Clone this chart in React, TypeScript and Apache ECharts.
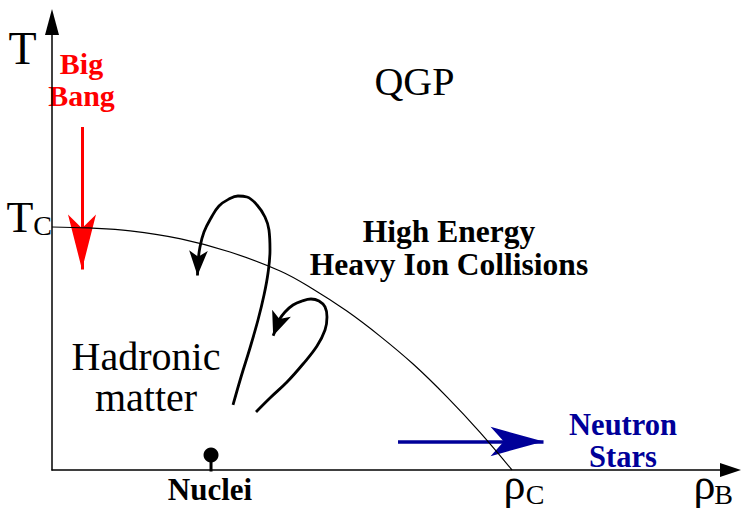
import React, { useEffect, useRef } from "react";
import * as echarts from "echarts";

// ---- data (x: rho_B / rho_C, y: T / T_C) ----
const phaseBoundary: number[][] = [
  [0, 1], [0.08, 0.996], [0.17, 0.984], [0.28, 0.951], [0.387, 0.897],
  [0.496, 0.819], [0.567, 0.745], [0.641, 0.654], [0.713, 0.551],
  [0.785, 0.436], [0.859, 0.3], [0.93, 0.156], [1.0, 0],
];

const collisionPath1: number[][] = [
  [0.3935, 0.2675], [0.4109, 0.3827], [0.4304, 0.5021], [0.4478, 0.6173],
  [0.4609, 0.7202], [0.4696, 0.8107], [0.4739, 0.9053], [0.4717, 0.9877],
  [0.463, 1.0412], [0.4457, 1.0905], [0.4239, 1.1235], [0.4043, 1.1276],
  [0.3848, 1.1152], [0.363, 1.0864], [0.3457, 1.037], [0.3304, 0.9794],
  [0.3217, 0.9177], [0.3174, 0.856],
];
const collisionHead1: number[][] = [[0.3174, 0.856], [0.3152, 0.749]];

const collisionPath2: number[][] = [
  [0.4435, 0.2387], [0.4739, 0.2963], [0.5109, 0.3621], [0.5457, 0.4362],
  [0.5761, 0.5103], [0.5935, 0.5761], [0.5978, 0.6296], [0.5935, 0.6708],
  [0.5804, 0.6955], [0.563, 0.7037], [0.5435, 0.6955], [0.5239, 0.679],
  [0.5065, 0.6502], [0.4935, 0.6173],
];
const collisionHead2: number[][] = [[0.4935, 0.6173], [0.4717, 0.5062]];

const bigBangArrow: number[][] = [[0.0652, 1.4115], [0.0652, 0.7119]];
const neutronStarArrow: number[][] = [[0.7522, 0.1173], [1.1261, 0.1173]];
const nucleiPoint: number[] = [0.3457, 0.0617];

// ---- layout ----
const W = 743;
const H = 512;
const GRID = { left: 52, top: 22, right: 12.5, bottom: 42 };
const X_MAX = 1.475;
const Y_MAX = 1.8436;
const PX_X = (W - GRID.left - GRID.right) / X_MAX;
const PX_Y = (H - GRID.top - GRID.bottom) / Y_MAX;

const SERIF = '"Liberation Serif", "Times New Roman", Times, serif';
const RED = "#ff0000";
const BLUE = "#000099";

// shorten an arrow so that the head (centered on the end point) has its tip at `tip`
function arrowCoords(pts: number[][], headLen: number): number[][] {
  const [tail, tip] = pts;
  const dxp = (tip[0] - tail[0]) * PX_X;
  const dyp = (tip[1] - tail[1]) * PX_Y;
  const L = Math.hypot(dxp, dyp);
  const ux = dxp / L;
  const uy = dyp / L;
  const c = [tip[0] - ((headLen / 2) * ux) / PX_X, tip[1] - ((headLen / 2) * uy) / PX_Y];
  return [tail, c];
}

function arrowSeries(pts: number[][], color: string, width: number, headW: number, headLen: number) {
  return {
    type: "lines",
    coordinateSystem: "cartesian2d",
    symbol: ["none", "arrow"],
    symbolSize: [[1, 1], [headW, headLen]],
    lineStyle: { color, width, opacity: 1, curveness: 0 },
    silent: true,
    data: [{ coords: arrowCoords(pts, headLen) }],
  };
}

function txt(
  text: string,
  x: number,
  y: number,
  size: number,
  color = "#000",
  bold = false,
  lineHeight?: number
) {
  return {
    type: "text",
    x,
    y,
    silent: true,
    style: {
      text,
      fill: color,
      font: `${bold ? "bold " : ""}${size}px ${SERIF}`,
      lineHeight: lineHeight ?? size,
      textAlign: "center",
      textVerticalAlign: "middle",
      align: "center",
      verticalAlign: "middle",
    },
  };
}

export default function App() {
  const ref = useRef<HTMLDivElement>(null);
  useEffect(() => {
    if (!ref.current) return;
    const chart = echarts.init(ref.current, undefined, { renderer: "svg" });
    const axisCommon = {
      type: "value",
      min: 0,
      axisTick: { show: false },
      axisLabel: { show: false },
      splitLine: { show: false },
    };
    chart.setOption({
      animation: false,
      backgroundColor: "#ffffff",
      grid: { ...GRID, containLabel: false },
      xAxis: {
        ...axisCommon,
        max: X_MAX,
        axisLine: {
          show: true,
          symbol: ["none", "triangle"],
          symbolSize: [14, 21],
          lineStyle: { color: "#000", width: 1.5 },
        },
      },
      yAxis: {
        ...axisCommon,
        max: Y_MAX,
        axisLine: {
          show: true,
          symbol: ["none", "triangle"],
          symbolSize: [14, 26],
          lineStyle: { color: "#000", width: 1.5 },
        },
      },
      series: [
        {
          type: "line",
          data: phaseBoundary,
          smooth: 0.4,
          showSymbol: false,
          lineStyle: { color: "#000", width: 1.2 },
          silent: true,
        },
        {
          type: "line",
          data: collisionPath1,
          smooth: 0.4,
          showSymbol: false,
          lineStyle: { color: "#000", width: 2.8 },
          silent: true,
        },
        {
          type: "line",
          data: collisionPath2,
          smooth: 0.4,
          showSymbol: false,
          lineStyle: { color: "#000", width: 2.8 },
          silent: true,
        },
        arrowSeries(collisionHead1, "#000", 2.8, 14, 25),
        arrowSeries(collisionHead2, "#000", 2.8, 15, 24),
        arrowSeries(bigBangArrow, RED, 3, 21, 55),
        arrowSeries(neutronStarArrow, BLUE, 3.5, 22, 53),
        {
          type: "line",
          data: [[nucleiPoint[0], -0.02], nucleiPoint],
          showSymbol: false,
          lineStyle: { color: "#000", width: 3 },
          silent: true,
        },
        {
          type: "scatter",
          data: [nucleiPoint],
          symbol: "circle",
          symbolSize: 15,
          itemStyle: { color: "#000", opacity: 1 },
          silent: true,
        },
      ],
      graphic: {
        elements: [
          txt("T", 22.5, 48, 46),
          {
            type: "text",
            x: 52,
            y: 217.5,
            silent: true,
            style: {
              text: "{t|T}{c|C}",
              textAlign: "right",
              textVerticalAlign: "middle",
              align: "right",
              verticalAlign: "middle",
              rich: {
                t: {
                  font: `44px ${SERIF}`,
                  fill: "#000",
                  color: "#000",
                  lineHeight: 44,
                },
                c: {
                  font: `28px ${SERIF}`,
                  fill: "#000",
                  color: "#000",
                  lineHeight: 19,
                  verticalAlign: "bottom",
                },
              },
            },
          },
          txt("ρ", 514.5, 484, 44),
          txt("C", 535, 494, 28),
          txt("ρ", 704.5, 484, 44),
          txt("B", 723.5, 494, 28),
          txt("QGP", 414.5, 81.5, 40),
          txt("Big\nBang", 81.5, 79, 30, RED, true, 32),
          txt("High Energy\nHeavy Ion Collisions", 449, 247.5, 31.5, "#000", true, 33),
          txt("Hadronic\nmatter", 146, 376.5, 40, "#000", false, 41),
          txt("Neutron\nStars", 623, 440.5, 30.5, BLUE, true, 32),
          txt("Nuclei", 210, 489, 31, "#000", true),
        ],
      },
    });
    return () => chart.dispose();
  }, []);
  return (
    <div
      ref={ref}
      style={{ position: "fixed", left: 0, top: 0, width: W, height: H, background: "#fff" }}
    />
  );
}
